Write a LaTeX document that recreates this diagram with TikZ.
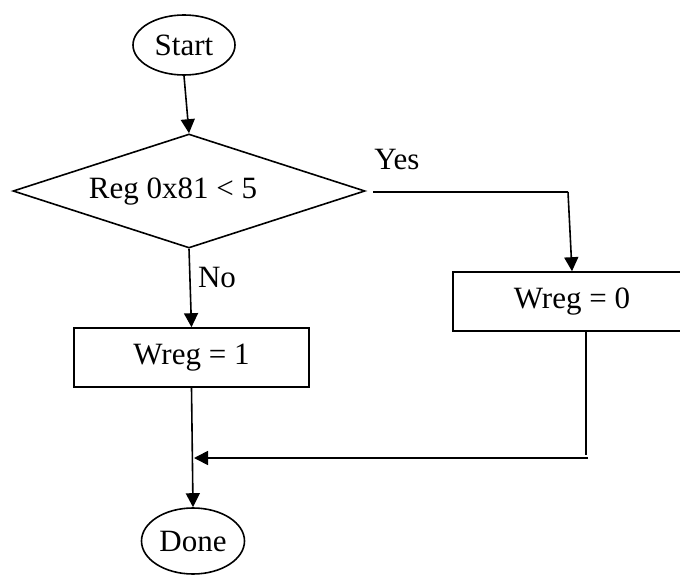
\documentclass[tikz,border=0pt]{standalone}
\usepackage{fontspec}
\setmainfont{Liberation Serif}
\usetikzlibrary{shapes.geometric,arrows.meta}
\begin{document}
\begin{tikzpicture}[x=1pt,y=-1pt,
  every node/.style={font=\fontsize{31}{36}\selectfont, inner sep=0pt},
  line/.style={line width=1.6pt},
  arr/.style={line width=1.6pt, -{Triangle[length=14pt,width=14pt]}},
  term/.style={ellipse, draw, line width=1.6pt},
  procbox/.style={rectangle, draw, line width=1.6pt},
  decision/.style={diamond, draw, line width=1.6pt}]
\clip (0,0) rectangle (680,575);
\fill[white] (0,0) rectangle (680,575);
% nodes
\node[term, minimum width=102pt, minimum height=60pt] (start) at (184,45) {Start};
\node[decision, minimum width=352pt, minimum height=114pt] (dia) at (189,191) {};
\node (dtext) at (173,192) {Reg 0x81 < 5};
\node[procbox, minimum width=238pt, minimum height=59pt] (w0) at (572,301.5) {};
\node (w0text) at (572,302) {Wreg = 0};
\node[procbox, minimum width=235pt, minimum height=59pt] (w1) at (191.5,357.5) {Wreg = 1};
\node[term, minimum width=103pt, minimum height=66pt] (done) at (193,541) {Done};
\node (yes) at (397,160) {Yes};
\node (no) at (217,278) {No};
% coordinates
\coordinate (ys) at (373,192);
\coordinate (y1) at (568,192);
\coordinate (b0) at (586,331);
\coordinate (b1) at (586,455);
\coordinate (h0) at (588,458);
\coordinate (h1) at (194,458);
% connectors
\draw[arr] (start.south) -- (dia.north);
\draw[line] (ys) -- (y1);
\draw[arr] (y1) -- (w0.north);
\draw[arr] (dia.south) -- (w1.north);
\draw[arr] (w1.south) -- (done.north);
\draw[line] (b0) -- (b1);
\draw[arr] (h0) -- (h1);
\end{tikzpicture}
\end{document}
